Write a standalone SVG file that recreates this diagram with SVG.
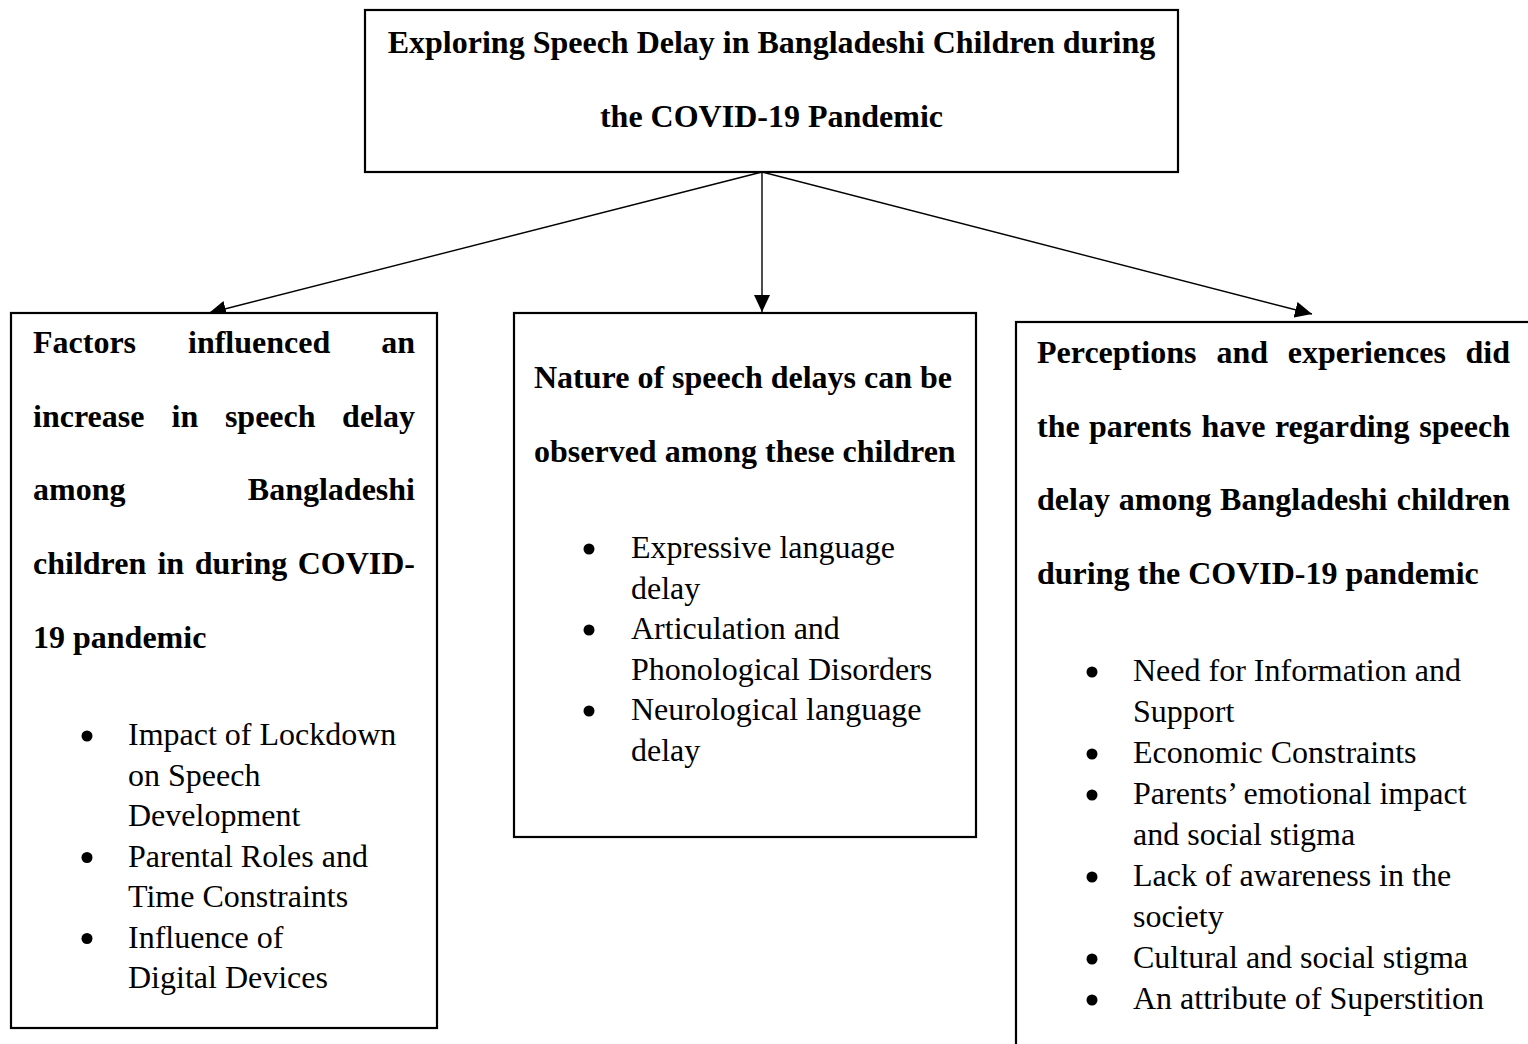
<svg xmlns="http://www.w3.org/2000/svg" width="1528" height="1044" viewBox="0 0 1528 1044">
<style>
.box{fill:#fff;stroke:#000;stroke-width:2.2}
.h{font-family:"Liberation Serif","Times New Roman",serif;font-weight:bold;font-size:32px;fill:#000}
.t{font-family:"Liberation Serif","Times New Roman",serif;font-size:32px;fill:#000}
.e{text-anchor:end}
.c{text-anchor:middle}
.conn{stroke:#000;stroke-width:1.4;fill:none;marker-end:url(#ah)}
.dot{fill:#000}
</style>
<defs>
<marker id="ah" markerUnits="userSpaceOnUse" markerWidth="18" markerHeight="16" refX="17" refY="8" orient="auto">
<path d="M0,0 L17,8 L0,16 z" fill="#000"/>
</marker>
</defs>
<rect width="1528" height="1044" fill="#fff"/>
<g id="connectors">
<line class="conn" x1="762" y1="172" x2="209" y2="313"/>
<line class="conn" x1="762" y1="172" x2="762" y2="312"/>
<line class="conn" x1="762" y1="172" x2="1312" y2="314"/>
</g>
<g id="top">
<rect class="box" x="365" y="10" width="813" height="162"/>
<text class="h c" x="771.5" y="53">Exploring Speech Delay in Bangladeshi Children during</text>
<text class="h c" x="771.5" y="127">the COVID-19 Pandemic</text>
</g>
<g id="factors">
<rect class="box" x="11" y="313" width="426" height="715"/>
<text class="h" x="33" y="353">Factors</text>
<text class="h" x="188" y="353">influenced</text>
<text class="h e" x="415" y="353">an</text>
<text class="h" x="33" y="427">increase</text>
<text class="h" x="171.6" y="427">in</text>
<text class="h" x="224.9" y="427">speech</text>
<text class="h e" x="415" y="427">delay</text>
<text class="h" x="33" y="500">among</text>
<text class="h e" x="415" y="500">Bangladeshi</text>
<text class="h" x="33" y="574">children</text>
<text class="h" x="157.4" y="574">in</text>
<text class="h" x="194.7" y="574">during</text>
<text class="h e" x="415" y="574">COVID-</text>
<text class="h" x="33" y="648">19 pandemic</text>
<circle class="dot" cx="87" cy="736" r="5.5"/>
<text class="t" x="128" y="745">Impact of Lockdown</text>
<text class="t" x="128" y="785.5">on Speech</text>
<text class="t" x="128" y="826">Development</text>
<circle class="dot" cx="87" cy="857.5" r="5.5"/>
<text class="t" x="128" y="866.5">Parental Roles and</text>
<text class="t" x="128" y="907">Time Constraints</text>
<circle class="dot" cx="87" cy="938.5" r="5.5"/>
<text class="t" x="128" y="947.5">Influence of</text>
<text class="t" x="128" y="988">Digital Devices</text>
</g>
<g id="nature">
<rect class="box" x="514" y="313" width="462" height="524"/>
<text class="h" x="534" y="388">Nature of speech delays can be</text>
<text class="h" x="534" y="462">observed among these children</text>
<circle class="dot" cx="589" cy="549" r="5.5"/>
<text class="t" x="631" y="558">Expressive language</text>
<text class="t" x="631" y="598.5">delay</text>
<circle class="dot" cx="589" cy="630" r="5.5"/>
<text class="t" x="631" y="639">Articulation and</text>
<text class="t" x="631" y="679.5">Phonological Disorders</text>
<circle class="dot" cx="589" cy="711" r="5.5"/>
<text class="t" x="631" y="720">Neurological language</text>
<text class="t" x="631" y="760.5">delay</text>
</g>
<g id="perceptions">
<rect class="box" x="1016" y="322" width="600" height="800"/>
<text class="h" x="1037" y="363">Perceptions</text>
<text class="h" x="1216.5" y="363">and</text>
<text class="h" x="1287.7" y="363">experiences</text>
<text class="h e" x="1510" y="363">did</text>
<text class="h" x="1037" y="437">the</text>
<text class="h" x="1089" y="437">parents</text>
<text class="h" x="1201.5" y="437">have</text>
<text class="h" x="1274.9" y="437">regarding</text>
<text class="h e" x="1510" y="437">speech</text>
<text class="h" x="1037" y="510">delay</text>
<text class="h" x="1118.8" y="510">among</text>
<text class="h" x="1220.1" y="510">Bangladeshi</text>
<text class="h e" x="1510" y="510">children</text>
<text class="h" x="1037" y="584">during the COVID-19 pandemic</text>
<circle class="dot" cx="1092" cy="672" r="5.5"/>
<text class="t" x="1133" y="681">Need for Information and</text>
<text class="t" x="1133" y="722">Support</text>
<circle class="dot" cx="1092" cy="754" r="5.5"/>
<text class="t" x="1133" y="763">Economic Constraints</text>
<circle class="dot" cx="1092" cy="795" r="5.5"/>
<text class="t" x="1133" y="804">Parents’ emotional impact</text>
<text class="t" x="1133" y="845">and social stigma</text>
<circle class="dot" cx="1092" cy="877" r="5.5"/>
<text class="t" x="1133" y="886">Lack of awareness in the</text>
<text class="t" x="1133" y="927">society</text>
<circle class="dot" cx="1092" cy="959" r="5.5"/>
<text class="t" x="1133" y="968">Cultural and social stigma</text>
<circle class="dot" cx="1092" cy="1000" r="5.5"/>
<text class="t" x="1133" y="1009">An attribute of Superstition</text>
</g>
</svg>
